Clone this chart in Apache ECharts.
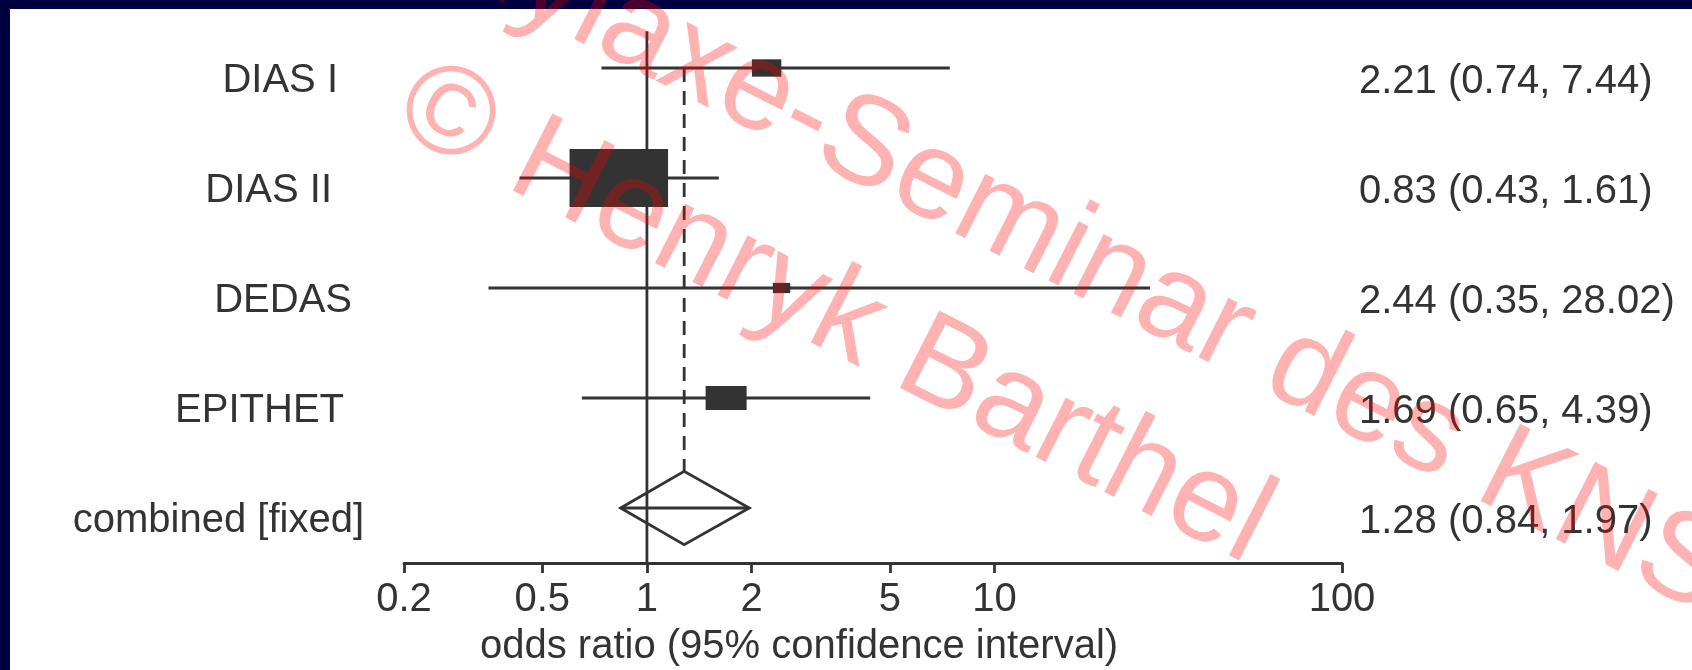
<!DOCTYPE html>
<html><head><meta charset="utf-8">
<script src="https://cdn.jsdelivr.net/npm/echarts@6/dist/echarts.min.js"></script>
<style>html,body{margin:0;padding:0;background:#fff}#c{width:1692px;height:670px}</style>
</head><body><div id="c"></div>
<script>
// ---- data ----
const studies   = ['DIAS I', 'DIAS II', 'DEDAS', 'EPITHET', 'combined [fixed]'];
const oddsRatio = [2.21, 0.83, 2.44, 1.69, 1.28];
const ciLower   = [0.74, 0.43, 0.35, 0.65, 0.84];
const ciUpper   = [7.44, 1.61, 28.02, 4.39, 1.97];
const weightPct = [6.9, 77.3, 2.4, 13.4, null];   // study weights (box area); null = pooled estimate
const tickValues = [0.2, 0.5, 1, 2, 5, 10, 100];
const axisTitle = 'odds ratio (95% confidence interval)';
const watermarkA = '\u00A9 Henryk Barthel';
const watermarkB = 'Prophylaxe-Seminar des KNS';

// ---- styles ----
const FONT = '"Liberation Sans", Arial, Helvetica, sans-serif';
const INK = '#333333';
const labelPadRight = [26, 32, 12, 20, 0];
const BOX_K = 11.2, BOX_ASPECT = 0.59, LW = 2.8;

const estimates = oddsRatio.map((o, i) => `${o.toFixed(2)} (${ciLower[i].toFixed(2)}, ${ciUpper[i].toFixed(2)})`);
const rows = studies.map((s, i) => [oddsRatio[i], ciLower[i], ciUpper[i], i, weightPct[i]]);

const chart = echarts.init(document.getElementById('c'), null, {renderer: 'canvas'});

function renderRow(params, api) {
  const i = api.value(3);
  const or = api.value(0), lo = api.value(1), hi = api.value(2), w = api.value(4);
  const pO = api.coord([or, i]);
  const pL = api.coord([lo, i]);
  const pH = api.coord([hi, i]);
  const band = api.coord([or, 1])[1] - api.coord([or, 0])[1];
  const y = pO[1];
  const children = [];
  const line = {stroke: INK, lineWidth: LW};
  if (w === null || isNaN(w)) {
    const hh = band / 3;
    const top = api.coord([or, 0])[1];
    children.push({type: 'line', shape: {x1: pO[0], y1: top, x2: pO[0], y2: y - hh},
      style: {stroke: INK, lineWidth: LW, lineDash: [14, 9]}});
    children.push({type: 'polygon', shape: {points: [[pL[0], y], [pO[0], y - hh], [pH[0], y], [pO[0], y + hh]]},
      style: {stroke: INK, lineWidth: LW, fill: null}});
    children.push({type: 'line', shape: {x1: pL[0], y1: y, x2: pH[0], y2: y}, style: line});
  } else {
    children.push({type: 'line', shape: {x1: pL[0], y1: y, x2: pH[0], y2: y}, style: line});
    const bw = BOX_K * Math.sqrt(w), bh = bw * BOX_ASPECT;
    children.push({type: 'rect', shape: {x: pO[0] - bw / 2, y: y - bh / 2, width: bw, height: bh},
      style: {fill: INK}});
  }
  return {type: 'group', children};
}

function renderNull(params, api) {
  const cs = params.coordSys;
  const p0 = api.coord([1, 0]);
  const band = api.coord([1, 1])[1] - p0[1];
  return {type: 'line', shape: {x1: p0[0], y1: p0[1] - band / 3, x2: p0[0], y2: cs.y + cs.height},
    style: {stroke: INK, lineWidth: LW}};
}

const leftLabelStyle = {fontSize: 40, color: INK, fontFamily: FONT, verticalAlign: 'top', lineHeight: 25};

const deg = Math.PI / 180;
const option = {
  animation: false,
  backgroundColor: '#ffffff',
  grid: {left: 404, right: 350, top: 13, bottom: 107},
  xAxis: {
    type: 'log', logBase: 10, min: 0.2, max: 100,
    axisLine: {show: true, lineStyle: {color: INK, width: LW}},
    axisTick: {show: true, customValues: tickValues, length: 10, lineStyle: {color: INK, width: LW}},
    axisLabel: {customValues: tickValues, fontSize: 40, color: INK, fontFamily: FONT, margin: 17,
      formatter: v => String(+(+v).toPrecision(3))},
    splitLine: {show: false}, minorTick: {show: false}, minorSplitLine: {show: false}
  },
  yAxis: [
    {type: 'category', inverse: true,
     data: studies.map((s, i) => ({value: s, textStyle: Object.assign({}, leftLabelStyle, {padding: [0, labelPadRight[i], 0, 0]})})),
     axisLine: {show: false}, axisTick: {show: false}, splitLine: {show: false},
     axisLabel: Object.assign({margin: 40, interval: 0}, leftLabelStyle)},
    {type: 'category', inverse: true, position: 'right',
     data: estimates,
     axisLine: {show: false}, axisTick: {show: false}, splitLine: {show: false},
     axisLabel: {fontSize: 40, color: INK, fontFamily: FONT, margin: 17, align: 'left', interval: 0,
       verticalAlign: 'top', lineHeight: 27}}
  ],
  series: [
    {type: 'custom', name: 'null', renderItem: renderNull, data: [[1, 0]], encode: {x: 0, y: 1}, silent: true, z: 2},
    {type: 'custom', name: 'studies', renderItem: renderRow, data: rows, encode: {x: [0, 1, 2], y: 3}, silent: true, z: 3}
  ],
  graphic: [
    {type: 'rect', z: 50, shape: {x: 0, y: 0, width: 1692, height: 9}, style: {fill: '#000040'}},
    {type: 'rect', z: 50, shape: {x: 0, y: 0, width: 10, height: 670}, style: {fill: '#000040'}},
    {type: 'text', z: 60, x: 480, y: 647,
     style: {text: axisTitle, fontSize: 40, fontFamily: FONT, fill: INK, align: 'left', verticalAlign: 'middle'}},
    {type: 'text', z: 100, x: 405.7, y: 96.9, rotation: -27 * deg,
     style: {text: watermarkA, fontSize: 126, fontFamily: FONT, fill: 'rgba(255,0,0,0.3)', align: 'left', verticalAlign: 'middle'}},
    {type: 'text', z: 100, x: 226.8, y: -177, rotation: -27 * deg,
     style: {text: watermarkB, fontSize: 126, fontFamily: FONT, fill: 'rgba(255,0,0,0.3)', align: 'left', verticalAlign: 'middle'}}
  ]
};
chart.setOption(option);
</script>
</body></html>
